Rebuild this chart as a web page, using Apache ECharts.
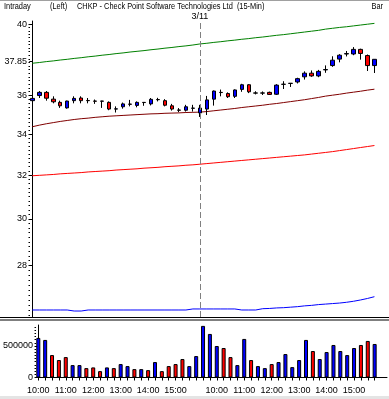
<!DOCTYPE html>
<html><head><meta charset="utf-8">
<script src="https://cdn.jsdelivr.net/npm/echarts@6/dist/echarts.min.js"></script>
<style>html,body{margin:0;padding:0;background:#fff;overflow:hidden}#c{width:389px;height:399px}</style>
</head><body><div id="c"></div>
<script>
// ---- data ----
const day1Times = ['10:00','10:15','10:30','10:45','11:00','11:15','11:30','11:45','12:00','12:15','12:30','12:45','13:00','13:15','13:30','13:45','14:00','14:15','14:30','14:45','15:00','15:15','15:30','15:45'];
const day2Times = ['09:30','09:45','10:00','10:15','10:30','10:45','11:00','11:15','11:30','11:45','12:00','12:15','12:30','12:45','13:00','13:15','13:30','13:45','14:00','14:15','14:30','14:45','15:00','15:15','15:30','15:45'];
const day2Label = '3/11';
const titleTexts = ['Intraday', '(Left)', 'CHKP - Check Point Software Technologies Ltd  (15-Min)', 'Bar'];

const openP  = [35.72,35.99,36.16,35.80,35.63,35.34,35.72,35.86,35.73,35.70,35.69,35.63,35.28,35.40,35.54,35.47,35.63,35.55,35.78,35.72,35.45,35.23,35.22,35.32,
                35.08,35.28,35.80,36.16,36.10,35.95,36.32,36.57,36.12,36.12,36.16,36.06,36.59,36.64,36.72,37.00,37.20,37.05,37.38,37.62,37.98,38.27,38.27,38.53,38.18,37.62];
const closeP = [35.84,36.16,35.85,35.66,35.45,35.70,35.84,35.72,35.72,35.69,35.70,35.28,35.29,35.55,35.53,35.63,35.62,35.79,35.77,35.48,35.28,35.22,35.40,35.33,
                35.33,35.76,36.23,36.15,35.93,36.29,36.57,36.19,36.13,36.13,36.05,36.55,36.60,36.65,36.90,37.20,37.05,37.30,37.40,37.92,38.20,38.29,38.53,38.30,37.62,37.97];
const lowP   = [35.55,35.86,35.72,35.58,35.34,35.30,35.58,35.58,35.58,35.55,35.34,35.22,35.10,35.30,35.42,35.37,35.45,35.47,35.68,35.42,35.20,35.12,35.15,35.15,
                34.87,34.97,35.46,35.95,35.86,35.86,36.19,36.12,36.05,36.02,36.02,36.02,36.34,36.45,36.64,36.85,37.00,36.98,37.22,37.55,37.80,38.13,38.20,37.95,37.32,37.21];
const highP  = [35.97,36.23,36.23,35.95,35.72,35.72,35.95,35.95,35.86,35.78,35.71,35.68,35.42,35.62,35.76,35.68,35.65,35.86,35.87,35.80,35.55,35.33,35.50,35.50,
                35.50,35.97,36.26,36.31,36.16,36.32,36.62,36.60,36.22,36.21,36.20,36.60,36.76,36.66,36.95,37.30,37.35,37.38,37.63,38.14,38.26,38.44,38.66,38.57,38.24,37.98];
const volume = [628000,596000,356000,277000,324000,197000,197000,149000,160000,101000,160000,149000,213000,181000,133000,133000,117000,245000,101000,181000,213000,293000,181000,340000,
                819000,691000,500000,468000,324000,197000,612000,277000,181000,149000,213000,245000,372000,165000,277000,596000,420000,293000,404000,516000,420000,356000,468000,516000,580000,532000];

const upperBand = [37.75,37.79,37.84,37.88,37.93,37.97,38.02,38.06,38.11,38.15,38.20,38.24,38.29,38.33,38.38,38.42,38.46,38.51,38.55,38.60,38.64,38.69,38.73,38.78,
                   38.84,38.88,38.93,38.97,39.02,39.06,39.11,39.15,39.20,39.24,39.29,39.34,39.38,39.43,39.48,39.53,39.58,39.63,39.70,39.75,39.80,39.84,39.89,39.94,39.99,40.04];
const midAvg    = [34.37,34.45,34.52,34.58,34.64,34.69,34.74,34.78,34.81,34.85,34.88,34.91,34.93,34.95,34.97,34.99,35.01,35.03,35.04,35.06,35.07,35.08,35.10,35.11,
                   35.12,35.15,35.19,35.23,35.27,35.31,35.36,35.40,35.44,35.48,35.53,35.57,35.62,35.67,35.72,35.77,35.83,35.89,35.96,36.01,36.06,36.12,36.17,36.22,36.28,36.33];
const lowerAvg  = [31.97,31.99,32.01,32.03,32.06,32.08,32.10,32.12,32.15,32.17,32.19,32.21,32.24,32.26,32.28,32.30,32.33,32.35,32.37,32.40,32.42,32.44,32.47,32.49,
                   32.52,32.55,32.58,32.61,32.64,32.67,32.70,32.73,32.76,32.79,32.82,32.85,32.88,32.91,32.94,32.97,33.01,33.05,33.09,33.13,33.18,33.23,33.28,33.33,33.38,33.43];
const bottomLine= [26.22,26.22,26.22,26.22,26.22,26.22,26.18,26.18,26.22,26.22,26.22,26.22,26.22,26.22,26.22,26.22,26.22,26.22,26.22,26.22,26.22,26.22,26.22,26.26,
                   26.26,26.26,26.26,26.26,26.26,26.26,26.22,26.22,26.22,26.27,26.28,26.30,26.31,26.33,26.35,26.38,26.40,26.43,26.45,26.47,26.49,26.52,26.56,26.61,26.67,26.74];

const priceTicks = [28, 30, 32, 34, 36, 37.85, 40];
const priceMinorTicks = [];
for (let k = 130; k <= 200; k++) priceMinorTicks.push(k / 5);
const volumeTicks = [0, 500000];
const volumeMinorTicks = [];
for (let k = 0; k <= 16; k++) volumeMinorTicks.push(k * 50000);

// ---- build ----
const times = day1Times.concat(day2Times);
const idx = times.map((t, i) => i);
const breakIndex = day1Times.length;
const labelIdx = idx.filter(i => times[i].endsWith(':00'));
const UP = '#0000ff', DOWN = '#ff0000';
const FONT = "'Liberation Sans',Arial,sans-serif";

const candleData = idx.map(i => [i, openP[i], closeP[i], lowP[i], highP[i]]);
const volData = idx.map(i => ({ value: [i, volume[i]], itemStyle: { color: closeP[i] >= openP[i] ? UP : DOWN } }));
const lineData = arr => idx.map(i => [i, arr[i]]);

const XMIN = -0.33, XMAX = 50.8, PMIN = 25.95, PMAX = 40.18, VMAX = 833000;
const AXF = 9;

const headText = (text, x, align) => ({
  type: 'text', silent: true, x: x, y: 2, scaleX: 0.87,
  style: { text: text, x: 0, y: 0, align: align, verticalAlign: 'top',
           font: "8.5px 'Liberation Sans', Arial, sans-serif", fill: '#000' }
});

const chart = echarts.init(document.getElementById('c'), null, { renderer: 'canvas' });
const lineSeries = (arr, color) => ({
  type: 'line', xAxisIndex: 0, yAxisIndex: 0, data: lineData(arr), showSymbol: false, symbol: 'none',
  lineStyle: { color, width: 1 }, silent: true, z: 1
});

chart.setOption({
  animation: false,
  backgroundColor: '#fff',
  grid: [
    { left: 30, right: 2, top: 21, bottom: 82 },
    { left: 30, right: 2, top: 325, bottom: 21.5 }
  ],
  xAxis: [
    { type: 'value', gridIndex: 0, min: XMIN, max: XMAX, show: false },
    { type: 'value', gridIndex: 1, min: XMIN, max: XMAX,
      axisLine: { show: true, lineStyle: { color: '#000', width: 1 } },
      axisTick: { show: true, customValues: idx, length: 3, lineStyle: { color: '#000' } },
      axisLabel: { show: true, customValues: labelIdx, formatter: v => times[Math.round(v)], margin: 9,
                   fontFamily: FONT, fontSize: AXF, color: '#000' },
      splitLine: { show: false } }
  ],
  yAxis: [
    { type: 'log', logBase: 10, gridIndex: 0, min: PMIN, max: PMAX, position: 'left',
      axisLine: { show: true, lineStyle: { color: '#000', width: 1 } },
      axisTick: { show: true, customValues: priceTicks, length: 3, lineStyle: { color: '#000' } },
      axisLabel: { show: true, customValues: priceTicks, formatter: v => String(v), margin: 3,
                   fontFamily: FONT, fontSize: AXF, color: '#000' },
      splitLine: { show: false }, minorTick: { show: false } },
    { type: 'log', logBase: 10, gridIndex: 0, min: PMIN, max: PMAX, position: 'left',
      axisLine: { show: false },
      axisTick: { show: true, customValues: priceMinorTicks, length: 1.5, lineStyle: { color: '#000' } },
      axisLabel: { show: false }, splitLine: { show: false } },
    { type: 'value', gridIndex: 1, min: 0, max: VMAX, position: 'left',
      axisLine: { show: true, lineStyle: { color: '#000', width: 1 } },
      axisTick: { show: true, customValues: volumeTicks, length: 3, lineStyle: { color: '#000' } },
      axisLabel: { show: true, customValues: volumeTicks, formatter: v => String(v), margin: 3,
                   fontFamily: FONT, fontSize: AXF, color: '#000' },
      splitLine: { show: false } },
    { type: 'value', gridIndex: 1, min: 0, max: VMAX, position: 'left',
      axisLine: { show: false },
      axisTick: { show: true, customValues: volumeMinorTicks, length: 1.5, lineStyle: { color: '#000' } },
      axisLabel: { show: false }, splitLine: { show: false } }
  ],
  series: [
    lineSeries(upperBand, '#008000'),
    lineSeries(midAvg, '#800000'),
    lineSeries(lowerAvg, '#ff0000'),
    lineSeries(bottomLine, '#0000ff'),
    { type: 'candlestick', xAxisIndex: 0, yAxisIndex: 0, data: candleData,
      encode: { x: 0, y: [1, 2, 3, 4] }, barWidth: 4, z: 3,
      itemStyle: { color: UP, color0: DOWN, borderColor: '#000', borderColor0: '#000', borderWidth: 1 },
      markLine: { symbol: 'none', silent: true, animation: false,
        lineStyle: { color: '#808080', type: [6, 3], width: 1 },
        label: { show: true, position: 'end', formatter: day2Label, distance: 0,
                 fontFamily: FONT, fontSize: AXF, color: '#000' },
        emphasis: { disabled: true },
        data: [{ xAxis: breakIndex }] } },
    { type: 'bar', xAxisIndex: 1, yAxisIndex: 2, data: volData, barWidth: 4,
      itemStyle: { borderColor: '#000', borderWidth: 1 } }
  ],
  graphic: [
    headText(titleTexts[0], 4, 'left'),
    headText(titleTexts[1], 50, 'left'),
    headText(titleTexts[2], 77, 'left'),
    headText(titleTexts[3], 383, 'right'),
    { type: 'line', silent: true, shape: { x1: 0, y1: 0.5, x2: 389, y2: 0.5 }, style: { stroke: '#a0a0a0', lineWidth: 1 } },
    { type: 'line', silent: true, shape: { x1: 0, y1: 317.5, x2: 389, y2: 317.5 }, style: { stroke: '#000', lineWidth: 1 } },
    { type: 'line', silent: true, shape: { x1: 0, y1: 320, x2: 389, y2: 320 }, style: { stroke: '#000', lineWidth: 1 } },
    { type: 'rect', silent: true, shape: { x: 0, y: 396, width: 389, height: 3 }, style: { fill: '#e4e4e4' } }
  ]
});
</script></body></html>
